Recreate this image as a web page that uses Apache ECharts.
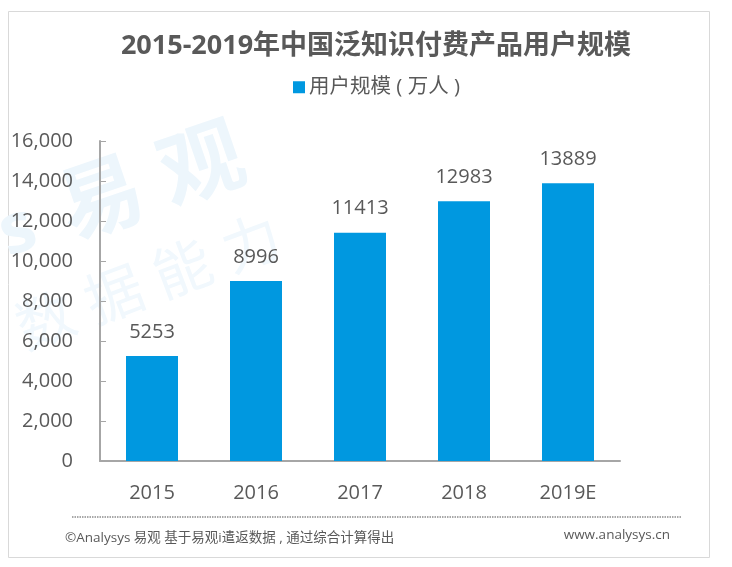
<!DOCTYPE html>
<html style="height: 100%">
<head>
<meta charset="UTF-8">
<title>用户规模</title>
<script src="https://cdn.jsdelivr.net/npm/echarts@6/dist/echarts.min.js"></script>
</head>
<body style="height: 100%;margin: 0;background: #fff">
<div id="container" style="width: 732px;height: 567px"></div>
<script type="text/javascript">
var categories = ['2015', '2016', '2017', '2018', '2019E'];
var userScale = [5253, 8996, 11413, 12983, 13889];
var seriesName = '用户规模 ( 万人 )';
var titleText = '2015-2019年中国泛知识付费产品用户规模';
var sourceText = '©Analysys 易观 基于易观i遣返数据 , 通过综合计算得出';
var siteText = 'www.analysys.cn';

var fontFamily = '"Open Sans", "Noto Sans CJK SC", sans-serif';
var textColor = '#595959';
var markColor = '#0098e0';
var waterColor = '#edf6fc';

var myChart = echarts.init(document.getElementById('container'));

var option = {
    animation: false,
    backgroundColor: '#fff',
    textStyle: {fontFamily: fontFamily},
    title: {
        text: titleText,
        left: 371,
        top: 28,
        textAlign: 'center',
        textStyle: {fontFamily: fontFamily, fontSize: 27, fontWeight: 'bold', color: textColor}
    },
    legend: {
        data: [seriesName],
        left: 288,
        top: 72,
        icon: 'rect',
        itemWidth: 12,
        itemHeight: 12,
        itemGap: 5,
        textStyle: {fontFamily: fontFamily, fontSize: 20.5, color: textColor, padding: [2, 0, 0, -1]}
    },
    grid: {left: 100, right: 112, top: 141, bottom: 106},
    xAxis: {
        type: 'category',
        data: categories,
        axisTick: {show: false},
        axisLine: {lineStyle: {color: '#a6a6a6', width: 2}},
        axisLabel: {fontSize: 20, color: textColor, margin: 22}
    },
    yAxis: {
        type: 'value',
        min: 0,
        max: 16000,
        interval: 2000,
        splitLine: {show: false},
        axisLine: {show: true, lineStyle: {color: '#a6a6a6', width: 2}},
        axisTick: {show: true, inside: true, length: 6, lineStyle: {color: '#a6a6a6'}},
        axisLabel: {
            fontSize: 20,
            color: textColor,
            margin: 27,
            padding: [4, 0, 0, 0],
            formatter: function (v) { return echarts.format.addCommas(v); }
        }
    },
    series: [{
        name: seriesName,
        type: 'bar',
        data: userScale,
        barWidth: 52,
        itemStyle: {color: markColor},
        label: {show: true, position: 'top', distance: 14, fontSize: 20, color: textColor}
    }],
    graphic: [
        // outer frame
        {type: 'rect', z: -10, shape: {x: 8.5, y: 11.5, width: 701, height: 546},
            style: {fill: '#fff', stroke: '#d9d9d9', lineWidth: 1}},
        // watermark
        {type: 'text', z: -5, x: 153, y: 186, rotation: 0.33,
            style: {text: '易 观', fill: waterColor, fontFamily: fontFamily, fontWeight: 'bold', fontSize: 84,
                textAlign: 'center', textVerticalAlign: 'middle'}},
        {type: 'text', z: -5, x: 150, y: 286, rotation: 0.36,
            style: {text: '数 据 能 力', fill: '#f1f8fd', fontFamily: fontFamily, fontSize: 58,
                textAlign: 'center', textVerticalAlign: 'middle'}},
        {type: 'text', z: -5, x: 18, y: 232, rotation: 0.33,
            style: {text: 's', fill: waterColor, fontFamily: fontFamily, fontWeight: 'bold', fontSize: 70,
                textAlign: 'center', textVerticalAlign: 'middle'}},
        // footer
        {type: 'line', shape: {x1: 72, y1: 517, x2: 682, y2: 517},
            style: {stroke: '#8c8c8c', lineWidth: 1.5, lineDash: [1.5, 1]}},
        {type: 'text', x: 65, y: 538,
            style: {text: sourceText, fill: textColor, fontFamily: fontFamily, fontSize: 13.5,
                textVerticalAlign: 'middle'}},
        {type: 'text', x: 670, y: 535,
            style: {text: siteText, fill: textColor, fontFamily: fontFamily, fontSize: 13.5,
                textAlign: 'right', textVerticalAlign: 'middle'}}
    ]
};

myChart.setOption(option);
</script>
</body>
</html>
